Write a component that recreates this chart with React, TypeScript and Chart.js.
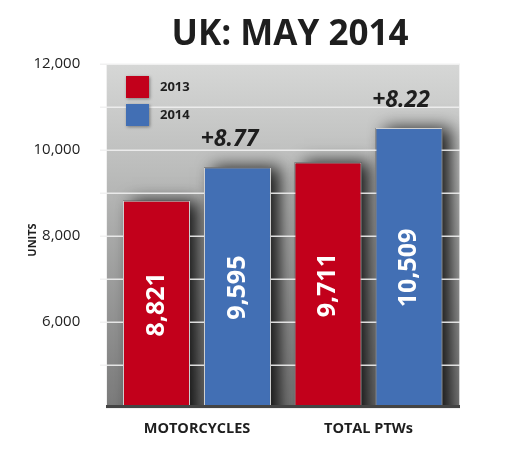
import React, { useEffect, useRef } from "react";
import { Chart, registerables } from "chart.js";

Chart.register(...registerables);

const categories = ["MOTORCYCLES", "TOTAL PTWs"];
const seriesNames = ["2013", "2014"];
const values2013 = [8821, 9711];
const values2014 = [9595, 10509];
const changeLabels = ["+8.77", "+8.22"];
const yTicksShown = [6000, 8000, 10000, 12000];
const seriesColors = ["#c2001b", "#426fb4"];

const FONT = "'Open Sans', 'Noto Sans', sans-serif";
const BG_EXTRA_LEFT = 5.25;
const BG_EXTRA_RIGHT = 5.75;

const deco = {
  id: "deco",
  beforeDraw(chart: any) {
    const { ctx, chartArea: a } = chart;
    const L = a.left - BG_EXTRA_LEFT;
    const R = a.right + BG_EXTRA_RIGHT;
    ctx.save();
    const g = ctx.createLinearGradient(0, a.top, 0, a.bottom);
    g.addColorStop(0, "#d6d7d6");
    g.addColorStop(0.3, "#bcbdbc");
    g.addColorStop(1, "#7a7a7a");
    ctx.fillStyle = g;
    ctx.fillRect(L, a.top, R - L, a.bottom - a.top);
    ctx.strokeStyle = "#f0f0f0";
    ctx.lineWidth = 1;
    ctx.strokeRect(L + 0.5, a.top + 0.5, R - L - 1, a.bottom - a.top);
    // bar shadows
    ctx.beginPath();
    ctx.rect(L, a.top, R - L, a.bottom - a.top);
    ctx.clip();
    chart.data.datasets.forEach((ds: any, di: number) => {
      const meta = chart.getDatasetMeta(di);
      meta.data.forEach((bar: any) => {
        const w = bar.width;
        ctx.save();
        ctx.shadowColor = "rgba(0,0,0,0.85)";
        ctx.shadowBlur = 16;
        ctx.shadowOffsetX = 9;
        ctx.shadowOffsetY = 0;
        ctx.fillStyle = "rgba(60,60,60,1)";
        ctx.fillRect(bar.x - w / 2, bar.y, w, a.bottom - bar.y + 20);
        ctx.restore();
      });
    });
    ctx.restore();
  },
  beforeDatasetsDraw(chart: any) {
    const { ctx, chartArea: a } = chart;
    const ys = chart.scales.y;
    ctx.save();
    ctx.strokeStyle = "rgba(240,240,240,0.9)";
    ctx.lineWidth = 1.5;
    ys.ticks.forEach((t: any) => {
      const y = Math.round(ys.getPixelForValue(t.value)) + 0.25;
      if (y >= a.bottom - 2) return;
      ctx.beginPath();
      ctx.moveTo(a.left - BG_EXTRA_LEFT - 6, y);
      ctx.lineTo(a.right + BG_EXTRA_RIGHT, y);
      ctx.stroke();
    });
    ctx.restore();
  },
  afterDraw(chart: any) {
    const { ctx, chartArea: a } = chart;
    const L = a.left - BG_EXTRA_LEFT;
    const R = a.right + BG_EXTRA_RIGHT;
    ctx.save();
    ctx.fillStyle = "#444444";
    ctx.fillRect(L, a.bottom - 3, R - L, 3);
    ctx.fillStyle = "#1e1e1e";
    ctx.font = `bold 35px ${FONT}`;
    ctx.textAlign = "center";
    ctx.textBaseline = "middle";
    ctx.fillText("UK: MAY 2014", 290, 35);
    ctx.save();
    ctx.translate(33, 240);
    ctx.rotate(-Math.PI / 2);
    ctx.font = `bold 11px ${FONT}`;
    ctx.fillText("UNITS", 0, 0);
    ctx.restore();
    seriesNames.forEach((name, i) => {
      const y = 76 + i * 28;
      ctx.save();
      ctx.shadowColor = "rgba(0,0,0,0.4)";
      ctx.shadowBlur = 3;
      ctx.shadowOffsetX = 1;
      ctx.shadowOffsetY = 1;
      ctx.fillStyle = seriesColors[i];
      ctx.fillRect(126, y, 23, 22);
      ctx.restore();
      ctx.fillStyle = "#1e1e1e";
      ctx.font = `bold 13px ${FONT}`;
      ctx.textAlign = "left";
      ctx.fillText(name, 160, y + 11);
    });
    chart.data.datasets.forEach((ds: any, di: number) => {
      const meta = chart.getDatasetMeta(di);
      meta.data.forEach((bar: any, i: number) => {
        const v = ds.data[i];
        const mid = (bar.y + a.bottom) / 2;
        ctx.save();
        ctx.translate(bar.x, mid);
        ctx.rotate(-Math.PI / 2);
        ctx.fillStyle = "#ffffff";
        ctx.font = `bold 25px ${FONT}`;
        ctx.textAlign = "center";
        ctx.textBaseline = "middle";
        ctx.fillText(v.toLocaleString("en-US"), 0, 0);
        ctx.restore();
        if (di === 1) {
          ctx.fillStyle = "#1e1e1e";
          ctx.font = `italic bold 23px ${FONT}`;
          ctx.textAlign = "center";
          ctx.textBaseline = "alphabetic";
          ctx.fillText(changeLabels[i], bar.x - 8, bar.y - 21);
        }
      });
    });
    ctx.restore();
  },
};

export default function App() {
  const ref = useRef<HTMLCanvasElement>(null);
  useEffect(() => {
    document.body.style.margin = "0";
    const common = {
      borderColor: "#d0d0d0",
      borderWidth: 1,
      categoryPercentage: 0.9446,
      barPercentage: 0.827,
    };
    const chart = new Chart(ref.current!, {
      type: "bar",
      data: {
        labels: categories,
        datasets: [
          { label: seriesNames[0], data: values2013, backgroundColor: seriesColors[0], ...common },
          { label: seriesNames[1], data: values2014, backgroundColor: seriesColors[1], ...common },
        ],
      },
      options: {
        animation: false,
        responsive: false,
        layout: { padding: { top: 64, right: 55.75, left: 0, bottom: 0 } },
        plugins: { legend: { display: false }, title: { display: false }, tooltip: { enabled: false } },
        scales: {
          x: {
            grid: { display: false },
            border: { display: false },
            ticks: {
              color: "#1e1e1e",
              font: { family: FONT, size: 14.5, weight: "bold" },
              padding: 4,
            },
            afterFit(s: any) {
              s.height = 51;
            },
          },
          y: {
            min: 4000,
            max: 12000,
            border: { display: false },
            grid: { display: false },
            ticks: {
              stepSize: 1000,
              padding: 23,
              color: "#222222",
              font: { family: FONT, size: 15 },
              callback: (v: any) => (yTicksShown.includes(Number(v)) ? Number(v).toLocaleString("en-US") : ""),
            },
            afterFit(s: any) {
              s.width = 111.25;
            },
          },
        },
      },
      plugins: [deco],
    });
    return () => chart.destroy();
  }, []);
  return <canvas ref={ref} width={510} height={459} style={{ display: "block" }} />;
}
